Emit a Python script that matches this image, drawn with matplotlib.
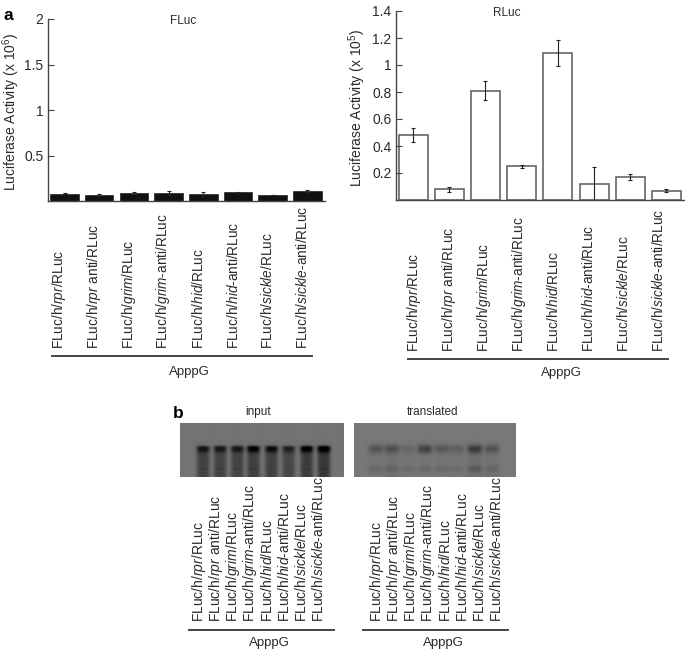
import numpy as np
import matplotlib
matplotlib.use('Agg')
import matplotlib.pyplot as plt

plt.rcParams['font.family'] = ['Liberation Sans', 'DejaVu Sans']
plt.rcParams['mathtext.fontset'] = 'custom'
plt.rcParams['mathtext.rm'] = 'Liberation Sans'
plt.rcParams['mathtext.it'] = 'Liberation Sans:italic'
plt.rcParams['mathtext.default'] = 'rm'

W, H = 685, 650
INK = '#2a2a2a'

categories = [r'FLuc/h/$\mathit{rpr}$/RLuc', r'FLuc/h/$\mathit{rpr}$ anti/RLuc',
              r'FLuc/h/$\mathit{grim}$/RLuc', r'FLuc/h/$\mathit{grim}$-anti/RLuc',
              r'FLuc/h/$\mathit{hid}$/RLuc', r'FLuc/h/$\mathit{hid}$-anti/RLuc',
              r'FLuc/h/$\mathit{sickle}$/RLuc', r'FLuc/h/$\mathit{sickle}$-anti/RLuc']
fluc_values = [0.080, 0.066, 0.088, 0.088, 0.076, 0.096, 0.066, 0.114]
fluc_errors = [0.008, 0.010, 0.012, 0.020, 0.020, 0.008, 0.002, 0.012]
rluc_values = [0.48, 0.08, 0.81, 0.25, 1.09, 0.12, 0.17, 0.07]
rluc_errors = [0.05, 0.02, 0.07, 0.012, 0.095, 0.125, 0.025, 0.012]
fluc_ticks = [0.5, 1, 1.5, 2]
rluc_ticks = [0.2, 0.4, 0.6, 0.8, 1, 1.2, 1.4]
input_top = [0.42, 0.42, 0.42, 0.62, 0.50, 0.36, 0.62, 0.66]
input_low = [0.48, 0.46, 0.46, 0.50, 0.48, 0.42, 0.52, 0.58]
trans_top = [0.26, 0.30, 0.12, 0.42, 0.24, 0.18, 0.46, 0.28]
trans_low = [0.14, 0.18, 0.10, 0.12, 0.12, 0.10, 0.26, 0.16]

fig = plt.figure(figsize=(W / 100, H / 100), dpi=100)


def axes_px(x0, y0, x1, y1, **kw):
    return fig.add_axes([x0 / W, 1 - y1 / H, (x1 - x0) / W, (y1 - y0) / H], **kw)


def ftext(x, y, s, **kw):
    fig.text(x / W, 1 - y / H, s, color=kw.pop('color', INK), **kw)


def hline(x0, x1, y, lw=1.4):
    fig.add_artist(plt.Line2D([x0 / W, x1 / W], [1 - y / H] * 2, color='#444444', lw=lw))


def bars(box, vals, errs, ticks, ymax, face, edge, lw, xmin, xmax, width):
    ax = axes_px(*box)
    x = np.arange(len(vals))
    ax.bar(x, vals, width=width, color=face, edgecolor=edge, linewidth=lw)
    ax.errorbar(x, vals, yerr=errs, fmt='none', ecolor='#222222', elinewidth=0.8, capsize=1.3, capthick=0.8)
    ax.set_xlim(xmin, xmax)
    ax.set_ylim(0, ymax)
    ax.set_xticks([])
    ax.set_yticks(ticks)
    ax.set_yticklabels([f'{t:g}' for t in ticks], fontsize=10, color=INK)
    ax.tick_params(axis='y', direction='in', length=4, width=0.8, color='#444444', pad=3)
    for s in ('top', 'right'):
        ax.spines[s].set_visible(False)
    for s in ('left', 'bottom'):
        ax.spines[s].set_color('#444444')
        ax.spines[s].set_linewidth(1.0)
    return ax


# panel a, left
pitch_l = 34.7
xmin_l = -(64.5 - 47.5) / pitch_l
bars((47.5, 19, 325, 201), fluc_values, fluc_errors, fluc_ticks, 2, '#111111', '#222222', 0.5,
     xmin_l, xmin_l + (325 - 47.5) / pitch_l, 28.5 / pitch_l)
# panel a, right
pitch_r = 36.2
xmin_r = -(413 - 395.7) / pitch_r
bars((395.7, 11, 685, 200), rluc_values, rluc_errors, rluc_ticks, 1.4, 'white', '#666666', 1.2,
     xmin_r, xmin_r + (685 - 395.7) / pitch_r, 29 / pitch_r)

ftext(4, 16, 'a', fontsize=12.5, fontweight='bold', color='black', va='center', ha='left')
ftext(183, 21, 'FLuc', fontsize=8.5, ha='center', va='center')
ftext(507, 13, 'RLuc', fontsize=8.5, ha='center', va='center')
ftext(11, 112, r'Luciferase Activity (x 10$^{6}$)', fontsize=10, rotation=90, ha='center', va='center')
ftext(357, 108, r'Luciferase Activity (x 10$^{5}$)', fontsize=10, rotation=90, ha='center', va='center')


def labels(x0, step, bottom, size):
    for i, c in enumerate(categories):
        ftext(x0 + i * step, bottom, c, fontsize=size, rotation=90, ha='center', va='bottom')


labels(59, 34.8, 349, 9.8)
hline(52, 312, 356)
ftext(189, 372, 'ApppG', fontsize=9.5, ha='center', va='center')
labels(414, 34.9, 352, 9.8)
hline(408, 668, 359)
ftext(561, 373, 'ApppG', fontsize=9.5, ha='center', va='center')


# panel b gels
def gel(box, centers, top, low, bg, smear_level, band_h, lane_w):
    x0, y0, x1, y1 = box
    px = np.arange(x0, x1) + 0.5
    py = np.arange(y0, y1) + 0.5
    X, Y = np.meshgrid(px, py)
    img = np.full(X.shape, bg)
    for c, t, l in zip(centers, top, low):
        lane = np.exp(-((X - c) / lane_w) ** 4)
        band = np.exp(-((Y - 449) / band_h) ** 2)
        lower = np.exp(-((Y - 469) / 4.5) ** 2)
        smear = np.clip((Y - 445) / 2, 0, 1) * smear_level
        img -= lane * (t * band + l * np.maximum(lower, smear)) * bg
    ax = axes_px(x0, y0, x1, y1)
    ax.imshow(np.clip(img, 0, 1), cmap='gray', vmin=0, vmax=1, aspect='auto', interpolation='bilinear')
    ax.axis('off')


gel((180, 423, 343, 477), [203, 220, 237, 253, 271, 288, 306, 323], input_top, input_low, 0.45, 0.9, 3.5, 6.5)
gel((354, 423, 516, 477), [376, 392, 408, 425, 442, 457, 475, 492], trans_top, trans_low, 0.47, 0.3, 4.5, 7.5)

ftext(178, 414, 'b', fontsize=12.5, fontweight='bold', color='black', va='center', ha='center')
ftext(258, 412, 'input', fontsize=8.5, ha='center', va='center')
ftext(433, 412, 'translated', fontsize=8.5, ha='center', va='center')
labels(199, 17.1, 622, 10)
hline(189, 334, 630)
ftext(269, 643, 'ApppG', fontsize=9.5, ha='center', va='center')
labels(377, 17.1, 622, 10)
hline(363, 508, 630)
ftext(443, 643, 'ApppG', fontsize=9.5, ha='center', va='center')

fig.savefig('out.png', dpi=100)
